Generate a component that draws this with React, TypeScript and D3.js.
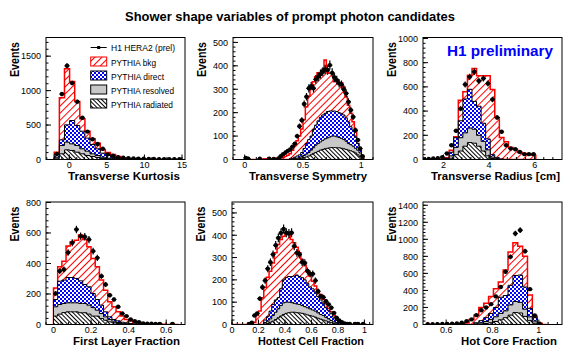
import React from 'react';
import * as d3 from 'd3';

const WIDTH = 573;
const HEIGHT = 354;
const FONT = "'Liberation Sans', Arial, Helvetica, sans-serif";

const chartTitle = 'Shower shape variables of prompt photon candidates';
const legendLabels = ['H1 HERA2 (prel)', 'PYTHIA bkg', 'PYTHIA direct', 'PYTHIA resolved', 'PYTHIA radiated'];
const stamp = 'H1 preliminary';

// Transverse Kurtosis: 25 bins from -2, width 0.68
const kurtData = [80, 950, 1360, 1110, 840, 605, 405, 295, 225, 155, 75, 55, 35, 25, 20, 15, 12, 10, 8, 8, 6, 6, 5, 5, 4];
const kurtBkg = [105, 895, 1316, 1133, 842, 590, 411, 300, 237, 140, 100, 73, 44, 20, 10, 5, 3, 2, 1, 1, 0, 0, 0, 0, 0];
const kurtDirect = [73, 285, 503, 566, 494, 411, 310, 218, 155, 92, 58, 34, 15, 8, 4, 2, 1, 0, 0, 0, 0, 0, 0, 0, 0];
const kurtResolved = [34, 203, 252, 227, 203, 155, 121, 82, 58, 34, 19, 10, 5, 2, 1, 0, 0, 0, 0, 0, 0, 0, 0, 0, 0];
const kurtRadiated = [19, 82, 140, 131, 106, 82, 58, 44, 29, 15, 10, 5, 2, 1, 0, 0, 0, 0, 0, 0, 0, 0, 0, 0, 0];

// Transverse Symmetry: 51 bins from 0, width 0.02
const symData = [7, 3, 0, 0, 0, 0, 3, 0, 0, 0, 3, 0, 2, 0, 4, 14, 23, 30, 37, 43, 55, 68, 100, 142, 168, 237, 268, 304, 313, 304,
  342, 353, 365, 375, 385, 382, 403, 370, 350, 339, 325, 320, 300, 282, 246, 211, 182, 125, 83, 47, 14];
const symBkg = [0, 0, 0, 0, 0, 0, 0, 0, 3, 3, 4, 4, 5, 5, 6, 8, 10, 14, 18, 25, 40, 60, 80, 100, 130, 170, 225, 270, 310, 332,
  353, 370, 372, 385, 425, 375, 368, 368, 332, 332, 328, 328, 310, 268, 232, 197, 161, 118, 68, 40, 11];
const symDirect = [0, 0, 0, 0, 0, 0, 0, 0, 0, 0, 0, 0, 0, 0, 0, 0, 0, 0, 0, 3, 5, 10, 15, 20, 30, 47, 68, 85, 100, 128,
  147, 165, 180, 190, 197, 205, 207, 207, 207, 205, 200, 197, 190, 178, 160, 140, 125, 97, 68, 40, 11];
const symResolved = [0, 0, 0, 0, 0, 0, 0, 0, 0, 0, 0, 0, 0, 0, 0, 0, 0, 0, 0, 1, 2, 4, 6, 9, 12, 17, 23, 30, 40, 50,
  61, 68, 75, 82, 88, 92, 96, 100, 100, 97, 94, 90, 85, 78, 68, 63, 57, 48, 40, 28, 10];
const symRadiated = [0, 0, 0, 0, 0, 0, 0, 0, 0, 0, 0, 0, 0, 0, 0, 0, 0, 0, 0, 0, 0, 0, 2, 4, 6, 8, 11, 15, 20, 26,
  30, 35, 40, 43, 46, 48, 50, 51, 51, 50, 50, 48, 46, 43, 40, 37, 33, 28, 20, 12, 5];

// Transverse Radius: 25 bins from 1.05, width 0.2
const radData = [3, 5, 8, 10, 20, 50, 118, 237, 420, 620, 683, 725, 650, 670, 628, 496, 347, 229, 118, 91, 85, 63, 44, 44, 44];
const radBkg = [0, 0, 0, 2, 5, 15, 77, 187, 490, 560, 697, 752, 692, 692, 692, 578, 347, 182, 146, 99, 85, 58, 50, 44, 36];
const radDirect = [0, 0, 0, 0, 0, 10, 60, 180, 320, 500, 580, 480, 440, 300, 170, 40, 15, 5, 0, 0, 0, 0, 0, 0, 0];
const radResolved = [0, 0, 0, 0, 0, 5, 30, 100, 180, 220, 260, 250, 200, 150, 80, 20, 5, 0, 0, 0, 0, 0, 0, 0, 0];
const radRadiated = [0, 0, 0, 0, 0, 2, 10, 40, 70, 110, 140, 135, 110, 70, 30, 8, 2, 0, 0, 0, 0, 0, 0, 0, 0];

// First Layer Fraction: 30 bins from 0, width 0.0222
const flData = [203, 350, 361, 472, 536, 623, 579, 575, 557, 481, 437, 317, 262, 192, 164, 116, 72, 55, 33, 22, 15, 7, 5, 5, 4, 4, 0, 0, 4, 0];
const flBkg = [240, 378, 415, 514, 542, 553, 586, 557, 509, 433, 378, 291, 225, 149, 116, 83, 55, 33, 24, 17, 11, 7, 4, 3, 2, 1, 1, 0, 0, 0];
const flDirect = [164, 284, 291, 308, 308, 302, 286, 262, 247, 203, 164, 127, 83, 50, 33, 24, 15, 11, 7, 4, 2, 0, 0, 0, 0, 0, 0, 0, 0, 0];
const flResolved = [116, 131, 138, 142, 142, 142, 138, 138, 127, 111, 94, 72, 50, 33, 22, 13, 8, 5, 3, 2, 0, 0, 0, 0, 0, 0, 0, 0, 0, 0];
const flRadiated = [55, 68, 78, 83, 83, 83, 77, 77, 68, 55, 55, 39, 28, 17, 11, 6, 3, 2, 0, 0, 0, 0, 0, 0, 0, 0, 0, 0, 0, 0];

// Hottest Cell Fraction: 51 bins from 0, width 0.02
const hcData = [0, 0, 0, 0, 0, 0, 3, 8, 40, 50, 116, 167, 197, 250, 279, 314, 355, 388, 410, 428, 411, 408, 411, 351, 321, 314, 279, 276, 240, 227,
  227, 197, 149, 127, 122, 104, 90, 75, 52, 30, 18, 10, 5, 3, 2, 0, 3, 3, 0, 3, 0];
const hcBkg = [0, 0, 0, 0, 0, 0, 0, 3, 10, 40, 60, 120, 167, 212, 239, 276, 321, 358, 381, 396, 406, 403, 381, 366, 346, 321, 291, 266, 239, 217,
  194, 172, 149, 134, 112, 93, 72, 57, 42, 30, 18, 7, 3, 0, 0, 0, 0, 0, 0, 0, 0];
const hcDirect = [0, 0, 0, 0, 0, 0, 0, 0, 0, 0, 0, 0, 20, 35, 60, 90, 110, 120, 160, 200, 210, 215, 215, 217, 222, 215, 210, 200, 185, 168,
  160, 145, 125, 110, 95, 75, 62, 48, 33, 18, 8, 3, 0, 0, 0, 0, 0, 0, 0, 0, 0];
const hcResolved = [0, 0, 0, 0, 0, 0, 0, 0, 0, 0, 0, 0, 8, 15, 25, 40, 55, 70, 85, 97, 100, 100, 98, 95, 92, 90, 85, 80, 75, 70,
  65, 60, 52, 45, 40, 32, 25, 18, 12, 7, 3, 0, 0, 0, 0, 0, 0, 0, 0, 0, 0];
const hcRadiated = [0, 0, 0, 0, 0, 0, 0, 0, 0, 0, 0, 0, 2, 5, 10, 15, 22, 30, 38, 45, 50, 53, 55, 55, 53, 52, 50, 47, 43, 40,
  37, 33, 28, 24, 20, 16, 12, 8, 5, 3, 1, 0, 0, 0, 0, 0, 0, 0, 0, 0, 0];

// Hot Core Fraction: 25 bins from 0.51, width 0.021
const hcfData = [3, 3, 4, 5, 6, 8, 12, 20, 40, 60, 110, 168, 200, 239, 330, 440, 620, 794, 1068, 1107, 861, 415, 106, 10, 0];
const hcfBkg = [0, 0, 0, 0, 1, 2, 4, 8, 20, 60, 110, 200, 250, 330, 420, 500, 640, 850, 960, 920, 800, 345, 95, 15, 0];
const hcfDirect = [0, 0, 0, 0, 0, 0, 0, 0, 0, 0, 20, 45, 80, 130, 200, 320, 340, 460, 575, 580, 440, 190, 80, 8, 0];
const hcfResolved = [0, 0, 0, 0, 0, 0, 0, 0, 0, 0, 8, 20, 35, 60, 90, 130, 160, 230, 270, 260, 180, 90, 40, 5, 0];
const hcfRadiated = [0, 0, 0, 0, 0, 0, 0, 0, 0, 0, 0, 5, 12, 20, 35, 55, 80, 110, 140, 135, 95, 45, 15, 2, 0];

const panels = [
  { name: 'Transverse Kurtosis', lo: -2, width: 0.68, data: kurtData, bkg: kurtBkg, direct: kurtDirect, resolved: kurtResolved, radiated: kurtRadiated,
    xDomain: [-3.1, 15.4], yMax: 1771, xTicks: [0, 5, 10, 15], xMinor: 1, yTicks: [0, 500, 1000, 1500], yMinor: 100 },
  { name: 'Transverse Symmetry', lo: 0, width: 0.02, data: symData, bkg: symBkg, direct: symDirect, resolved: symResolved, radiated: symRadiated,
    xDomain: [-0.1, 1.1], yMax: 521, xTicks: [0, 0.5, 1], xMinor: 0.1, yTicks: [0, 100, 200, 300, 400, 500], yMinor: 20 },
  { name: 'Transverse Radius [cm]', lo: 1.05, width: 0.2, data: radData, bkg: radBkg, direct: radDirect, resolved: radResolved, radiated: radRadiated,
    xDomain: [1.1, 7.2], yMax: 1008, xTicks: [2, 4, 6], xMinor: 0.4, yTicks: [0, 200, 400, 600, 800, 1000], yMinor: 40 },
  { name: 'First Layer Fraction', lo: 0, width: 0.0222, data: flData, bkg: flBkg, direct: flDirect, resolved: flResolved, radiated: flRadiated,
    xDomain: [-0.04, 0.7], yMax: 803, xTicks: [0, 0.2, 0.4, 0.6], xMinor: 0.04, yTicks: [0, 200, 400, 600, 800], yMinor: 40 },
  { name: 'Hottest Cell Fraction', lo: 0, width: 0.02, data: hcData, bkg: hcBkg, direct: hcDirect, resolved: hcResolved, radiated: hcRadiated,
    xDomain: [0, 1.065], yMax: 549, xTicks: [0, 0.2, 0.4, 0.6, 0.8, 1], xMinor: 0.04, yTicks: [0, 100, 200, 300, 400, 500], yMinor: 20 },
  { name: 'Hot Core Fraction', lo: 0.51, width: 0.021, data: hcfData, bkg: hcfBkg, direct: hcfDirect, resolved: hcfResolved, radiated: hcfRadiated,
    xDomain: [0.5, 1.1], yMax: 1438, xTicks: [0.6, 0.8, 1], xMinor: 0.04, yTicks: [0, 200, 400, 600, 800, 1000, 1200, 1400], yMinor: 40 },
];

// frame boxes and x-title placement
const frames = [
  { x0: 46, x1: 185, y0: 37.5, y1: 159.5, tx: 68, tlen: 112 },
  { x0: 233, x1: 373, y0: 37.5, y1: 159.5, tx: 249, tlen: 118 },
  { x0: 423, x1: 562, y0: 37.5, y1: 159.5, tx: 431, tlen: 129 },
  { x0: 46, x1: 185, y0: 202, y1: 324.5, tx: 73, tlen: 107 },
  { x0: 232, x1: 373, y0: 202, y1: 324.5, tx: 258, tlen: 106 },
  { x0: 423, x1: 562, y0: 202, y1: 324.5, tx: 461, tlen: 96 },
];

const fmt = (v: number) => String(+v.toFixed(2));

function Histogram({ panel, frame, id }: any) {
  const x = d3.scaleLinear().domain(panel.xDomain).range([frame.x0, frame.x1]);
  const y = d3.scaleLinear().domain([0, panel.yMax]).range([frame.y1, frame.y0]);
  const edge = (i: number) => panel.lo + i * panel.width;

  const area = d3.area<number>()
    .x((_, i) => x(edge(i)))
    .y0(y(0))
    .y1(v => y(v))
    .curve(d3.curveStepAfter);
  const stepPath = (vals: number[]) => area([...vals, vals[vals.length - 1]]) || '';

  const layers = [
    { vals: panel.bkg, fill: 'url(#pBkg)', stroke: '#ff0000', sw: 1.5 },
    { vals: panel.direct, fill: 'url(#pDir)', stroke: '#000', sw: 1 },
    { vals: panel.resolved, fill: '#c8c8c8', stroke: '#000', sw: 1 },
    { vals: panel.radiated, fill: 'url(#pRad)', stroke: '#000', sw: 1 },
  ];

  const [d0, d1] = panel.xDomain;
  const minorX = d3.range(Math.ceil(d0 / panel.xMinor) * panel.xMinor, d1, panel.xMinor);
  const minorY = d3.range(0, panel.yMax, panel.yMinor);
  const halfBin = Math.max(2.5, (x(edge(1)) - x(edge(0))) / 2);

  return (
    <g>
      <clipPath id={`clip${id}`}>
        <rect x={frame.x0} y={frame.y0} width={frame.x1 - frame.x0} height={frame.y1 - frame.y0} />
      </clipPath>
      <g clipPath={`url(#clip${id})`}>
        {layers.map((l, i) => (
          <path key={i} d={stepPath(l.vals)} fill={l.fill} stroke={l.stroke} strokeWidth={l.sw} strokeLinejoin="miter" />
        ))}
        {panel.data.map((v: number, i: number) => {
          if (v <= 0) return null;
          const cx = x(edge(i) + panel.width / 2);
          const e = Math.sqrt(v);
          return (
            <g key={i}>
              <line x1={cx} x2={cx} y1={y(v - e)} y2={y(v + e)} stroke="#000" strokeWidth={1.2} />
              <line x1={cx - halfBin} x2={cx + halfBin} y1={y(v)} y2={y(v)} stroke="#000" strokeWidth={1.2} />
              <circle cx={cx} cy={y(v)} r={2.2} fill="#000" />
            </g>
          );
        })}
      </g>
      <rect x={frame.x0} y={frame.y0} width={frame.x1 - frame.x0} height={frame.y1 - frame.y0} fill="none" stroke="#000" strokeWidth={1} />
      {minorX.map((t: number, i: number) => (
        <line key={`mx${i}`} x1={x(t)} x2={x(t)} y1={frame.y1} y2={frame.y1 - 2.5} stroke="#000" />
      ))}
      {panel.xTicks.map((t: number) => (
        <g key={`x${t}`}>
          <line x1={x(t)} x2={x(t)} y1={frame.y1} y2={frame.y1 - 5} stroke="#000" />
          <text x={x(t)} y={frame.y1 + 8} textAnchor="middle" fontSize={9}>{fmt(t)}</text>
        </g>
      ))}
      {minorY.map((t: number, i: number) => (
        <line key={`my${i}`} x1={frame.x0} x2={frame.x0 + 2.5} y1={y(t)} y2={y(t)} stroke="#000" />
      ))}
      {panel.yTicks.map((t: number) => (
        <g key={`y${t}`}>
          <line x1={frame.x0} x2={frame.x0 + 5} y1={y(t)} y2={y(t)} stroke="#000" />
          <text x={frame.x0 - 5} y={y(t) + 3.3} textAnchor="end" fontSize={9}>{fmt(t)}</text>
        </g>
      ))}
      <text x={frame.tx} y={frame.y1 + 20} fontSize={11.5} fontWeight="bold" textLength={frame.tlen} lengthAdjust="spacingAndGlyphs">
        {panel.name}
      </text>
      <text transform={`translate(${frame.x0 - 27.5},${frame.y0 + 4.5}) rotate(-90)`} textAnchor="end" fontSize={12}
        fontWeight="bold" textLength={35} lengthAdjust="spacingAndGlyphs">Events</text>
    </g>
  );
}

function Legend({ frame }: any) {
  const bx = frame.x0 + 44.7;
  const tx = frame.x0 + 65;
  const boxFills = [
    { fill: 'url(#pBkg)', stroke: '#ff0000' },
    { fill: 'url(#pDir)', stroke: '#000' },
    { fill: '#c8c8c8', stroke: '#000' },
    { fill: 'url(#pRad)', stroke: '#000' },
  ];
  const lens = [64, 45, 53, 63, 62];
  const rowY = (i: number) => frame.y0 + 10 + i * 14;
  return (
    <g fontSize={9}>
      <line x1={bx} x2={bx + 16} y1={rowY(0)} y2={rowY(0)} stroke="#000" strokeWidth={1} />
      <rect x={bx + 6.5} y={rowY(0) - 1.5} width={3} height={3} fill="#000" />
      <text x={tx} y={rowY(0) + 3.5} textLength={lens[0]} lengthAdjust="spacingAndGlyphs">{legendLabels[0]}</text>
      {boxFills.map((b, i) => (
        <g key={i}>
          <rect x={bx} y={rowY(i + 1) - 4.5} width={16} height={9} fill={b.fill} stroke={b.stroke} strokeWidth={1} />
          <text x={tx} y={rowY(i + 1) + 4} textLength={lens[i + 1]} lengthAdjust="spacingAndGlyphs">{legendLabels[i + 1]}</text>
        </g>
      ))}
    </g>
  );
}

export default function App() {
  return (
    <svg width={WIDTH} height={HEIGHT} viewBox={`0 0 ${WIDTH} ${HEIGHT}`} fontFamily={FONT}
      style={{ position: 'absolute', left: 0, top: 0, display: 'block', background: '#fff' }}>
      <defs>
        <pattern id="pBkg" patternUnits="userSpaceOnUse" width={5} height={5} patternTransform="rotate(45)">
          <rect width={5} height={5} fill="#fff" />
          <line x1={2.5} y1={0} x2={2.5} y2={5} stroke="#ff0000" strokeWidth={1} />
        </pattern>
        <pattern id="pDir" patternUnits="userSpaceOnUse" width={4} height={4}>
          <rect width={4} height={4} fill="#0000ff" />
          <rect x={0} y={0} width={2} height={2} fill="#fff" />
          <rect x={2} y={2} width={2} height={2} fill="#fff" />
        </pattern>
        <pattern id="pRad" patternUnits="userSpaceOnUse" width={3} height={3} patternTransform="rotate(-45)">
          <rect width={3} height={3} fill="#fff" />
          <line x1={1.5} y1={0} x2={1.5} y2={3} stroke="#000" strokeWidth={1} />
        </pattern>
      </defs>
      <rect width={WIDTH} height={HEIGHT} fill="#fff" />
      <text x={290} y={21} textAnchor="middle" fontSize={13.5} fontWeight="bold" textLength={330} lengthAdjust="spacingAndGlyphs">
        {chartTitle}
      </text>
      {panels.map((p, i) => (
        <Histogram key={i} panel={p} frame={frames[i]} id={i} />
      ))}
      <Legend frame={frames[0]} />
      <text x={frames[2].x0 + 24} y={frames[2].y0 + 18.5} fontSize={15} fontWeight="bold" fill="#0000ff"
        textLength={106} lengthAdjust="spacingAndGlyphs">{stamp}</text>
    </svg>
  );
}
